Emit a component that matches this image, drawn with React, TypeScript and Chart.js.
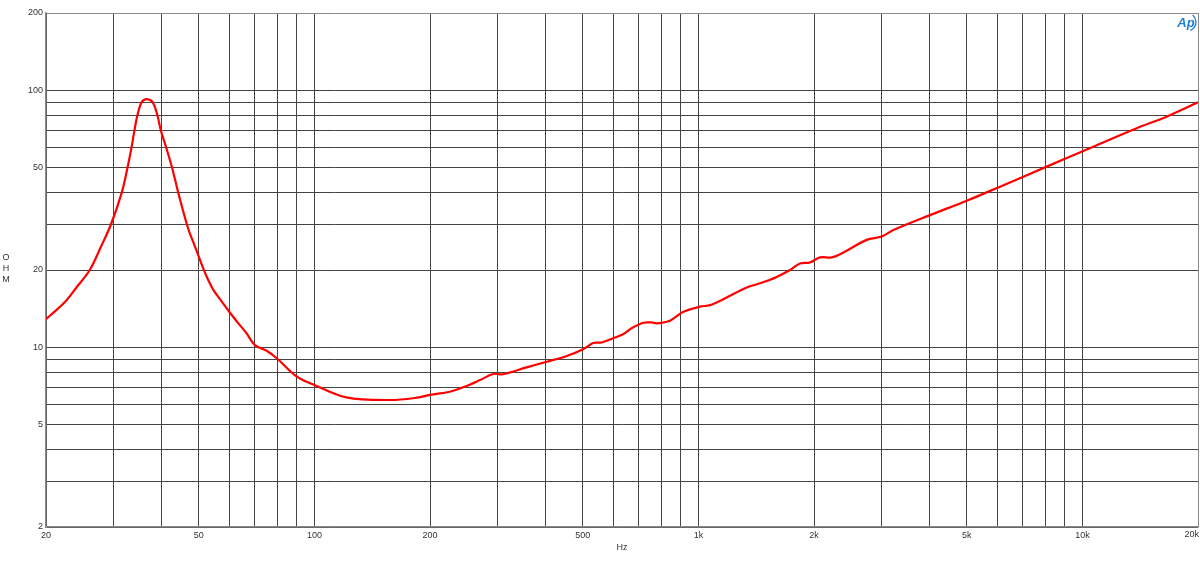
import React, { useEffect, useRef } from "react";
import { Chart, registerables } from "chart.js";

Chart.register(...registerables);

const freqs = [
  20, 20.5, 22.4, 24.0, 26.0, 27.9, 29.5, 31.5, 32.6, 33.4, 34.0, 34.6, 35.5, 36.6, 37.9, 39.0,
  39.8, 41.1, 42.6, 44.2, 46.9, 48.4, 49.8, 51.4, 52.9, 54.6, 57.4, 60.0, 63.4, 66.6, 70, 75.1,
  79.8, 90, 100, 121, 157, 185, 200, 225, 244, 270, 292, 310, 357, 403, 454, 501, 532, 560, 600,
  638, 670, 719, 756, 779, 843, 914, 1010, 1072, 1161, 1336, 1447, 1599, 1732, 1839, 1952, 2073,
  2224, 2385, 2744, 3002, 3218, 4010, 4999, 6102, 8073, 10054, 13848, 16570, 20000,
];
const ohms = [
  12.9, 13.3, 15.0, 17.1, 20.0, 24.9, 30, 40, 50, 60, 70, 80, 90, 92.5, 90, 80, 70, 60, 50, 40,
  29.0, 25.6, 22.9, 20.2, 18.3, 16.7, 15.06, 13.76, 12.4, 11.34, 10.2, 9.7, 9.07, 7.69, 7.14, 6.39,
  6.24, 6.37, 6.53, 6.72, 6.99, 7.46, 7.88, 7.86, 8.36, 8.79, 9.26, 9.83, 10.4, 10.45, 10.85,
  11.27, 11.87, 12.47, 12.5, 12.4, 12.7, 13.76, 14.4, 14.6, 15.4, 17.1, 17.75, 18.8, 20.0, 21.2,
  21.4, 22.4, 22.4, 23.4, 26.2, 27.0, 28.6, 32.7, 37.2, 42.2, 50.5, 58.1, 71.2, 79.0, 89.8,
];

const xGrid = [
  20, 30, 40, 50, 60, 70, 80, 90, 100, 200, 300, 400, 500, 600, 700, 800, 900, 1000, 2000, 3000,
  4000, 5000, 6000, 7000, 8000, 9000, 10000, 20000,
];
const xLabels: Record<number, string> = {
  20: "20", 50: "50", 100: "100", 200: "200", 500: "500", 1000: "1k", 2000: "2k", 5000: "5k",
  10000: "10k",
};
const xLastLabel = "20k";
const yGrid = [2, 3, 4, 5, 6, 7, 8, 9, 10, 20, 30, 40, 50, 60, 70, 80, 90, 100, 200];
const yLabels: Record<number, string> = {
  2: "2", 5: "5", 10: "10", 20: "20", 50: "50", 100: "100", 200: "200",
};
const yTitle = ["O", "H", "M"];
const xTitle = "Hz";

const FONT = "'Liberation Sans', Arial, sans-serif";

export default function App() {
  const ref = useRef<HTMLCanvasElement>(null);
  useEffect(() => {
    document.body.style.margin = "0";
    const canvas = ref.current!;
    const overlay = {
      id: "overlay",
      afterDraw(chart: any) {
        const ctx = chart.ctx;
        const xs = chart.scales.x;
        ctx.save();
        ctx.fillStyle = "#333";
        ctx.font = `9px ${FONT}`;
        ctx.textAlign = "center";
        ctx.textBaseline = "middle";
        yTitle.forEach((l, i) => ctx.fillText(l, 6, 258 + i * 11));
        ctx.textAlign = "right";
        ctx.textBaseline = "top";
        ctx.fillText(xLastLabel, 1199, xs.top + 3);
        // logo
        ctx.fillStyle = "#1e7fd6";
        ctx.strokeStyle = "#1e7fd6";
        ctx.textAlign = "center";
        ctx.textBaseline = "middle";
        ctx.font = `italic bold 13px ${FONT}`;
        ctx.fillText("Ap", 1186, 23);
        ctx.lineWidth = 1.3;
        ctx.beginPath();
        ctx.arc(1187, 22, 9, -0.9, 1.2);
        ctx.stroke();
        ctx.restore();
      },
    };
    const chart = new Chart(canvas, {
      type: "line",
      data: {
        datasets: [
          {
            data: freqs.map((f, i) => ({ x: f, y: ohms[i] })),
            borderColor: "#ff0000",
            borderWidth: 2.2,
            pointRadius: 0,
            tension: 0.35,
            fill: false,
          },
        ],
      },
      options: {
        responsive: false,
        animation: false,
        layout: { padding: { top: 13, right: 2, left: 0, bottom: 0 } },
        plugins: { legend: { display: false }, tooltip: { enabled: false } },
        scales: {
          x: {
            type: "logarithmic",
            min: 20,
            max: 20000,
            afterBuildTicks: (s: any) => {
              s.ticks = xGrid.map((v) => ({ value: v }));
            },
            afterFit: (s: any) => {
              s.height = 40;
              s.paddingLeft = 0;
              s.paddingRight = 0;
            },
            ticks: {
              autoSkip: false,
              maxRotation: 0,
              padding: 3,
              color: "#333",
              font: { family: FONT, size: 9 },
              callback: (v: any) => xLabels[Number(v)] ?? "",
            },
            grid: {
              drawTicks: false,
              color: (c: any) => (c.tick && c.tick.value === 20000 ? "#8a8a8a" : "#444"),
              lineWidth: 1,
            },
            border: { display: true, color: "#8a8a8a", width: 1.5 },
            title: {
              display: true,
              text: xTitle,
              color: "#333",
              font: { family: FONT, size: 9 },
              padding: { top: 0, bottom: 14 },
            },
          },
          y: {
            type: "logarithmic",
            min: 2,
            max: 200,
            afterBuildTicks: (s: any) => {
              s.ticks = yGrid.map((v) => ({ value: v }));
            },
            afterFit: (s: any) => {
              s.width = 46;
              s.paddingTop = 0;
              s.paddingBottom = 0;
            },
            ticks: {
              autoSkip: false,
              padding: 3,
              color: "#333",
              font: { family: FONT, size: 9 },
              callback: (v: any) => yLabels[Number(v)] ?? "",
            },
            grid: {
              drawTicks: false,
              color: (c: any) => (c.tick && c.tick.value === 200 ? "#8a8a8a" : "#444"),
              lineWidth: 1,
            },
            border: { display: true, color: "#8a8a8a", width: 1.5 },
          },
        },
      },
      plugins: [overlay],
    } as any);
    return () => chart.destroy();
  }, []);
  return (
    <div style={{ width: 1200, height: 567, background: "#fff" }}>
      <canvas ref={ref} width={1200} height={567} style={{ display: "block" }} />
    </div>
  );
}
